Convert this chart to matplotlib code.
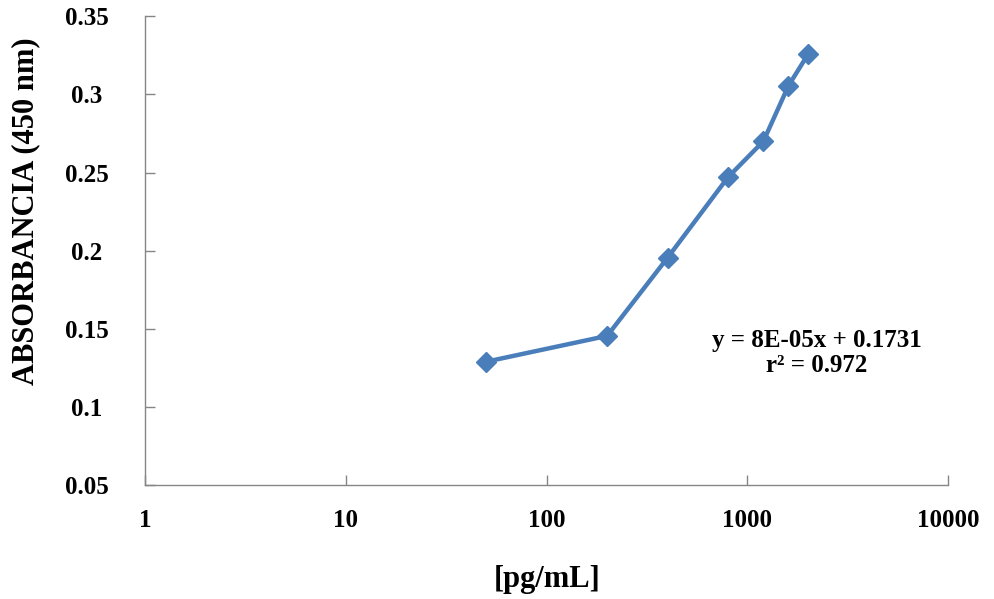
import numpy as np
import matplotlib
matplotlib.use("Agg")
import matplotlib.pyplot as plt

# concentration (pg/mL) vs absorbance
conc = [50, 200, 400, 800, 1200, 1600, 2000]
absorb = [0.129, 0.1455, 0.1955, 0.247, 0.270, 0.3055, 0.3255]

x_ticks = [1, 10, 100, 1000, 10000]
x_tick_labels = ["1", "10", "100", "1000", "10000"]
y_ticks = [0.05, 0.1, 0.15, 0.2, 0.25, 0.3, 0.35]
y_tick_labels = ["0.05", "0.1", "0.15", "0.2", "0.25", "0.3", "0.35"]

plt.rcParams['font.family'] = ['Liberation Serif', 'DejaVu Serif']
plt.rcParams['font.weight'] = 'bold'

fig = plt.figure(figsize=(9.94, 5.99), dpi=100)
ax = fig.add_axes([0.146, 0.190, 0.808, 0.783])

ax.plot(conc, absorb, color="#4a7ebb", lw=3.2, marker="D", ms=10,
        markerfacecolor="#4a7ebb", markeredgecolor="#4a7ebb")

ax.set_xscale("log")
ax.set_xlim(1, 10000)
ax.set_ylim(0.05, 0.35)
ax.set_xticks(x_ticks)
ax.set_xticklabels(x_tick_labels)
ax.minorticks_off()
ax.set_yticks(y_ticks)
ax.set_yticklabels(y_tick_labels)

for s in ["top", "right"]:
    ax.spines[s].set_visible(False)
for s in ["left", "bottom"]:
    ax.spines[s].set_color("#868686")
    ax.spines[s].set_linewidth(1.0)

ax.tick_params(axis="both", direction="in", length=7, width=1, color="#868686",
               labelsize=18)
ax.tick_params(axis="x", pad=17)
ax.tick_params(axis="y", pad=42)
for lab in ax.get_yticklabels():
    lab.set_horizontalalignment("center")

ax.set_xlabel("[pg/mL]", fontsize=22, fontweight="bold")
ax.xaxis.set_label_coords(0.5, -0.17)
ax.set_ylabel("ABSORBANCIA (450 nm)", fontsize=22, fontweight="bold")
ax.yaxis.set_label_coords(-0.13, 0.585)

ax.text(0.836, 0.282, "y = 8E-05x + 0.1731\nr² = 0.972", transform=ax.transAxes,
        ha="center", va="center", fontsize=18, fontweight="bold", linespacing=1.15)

fig.savefig("out.png", dpi=100)
